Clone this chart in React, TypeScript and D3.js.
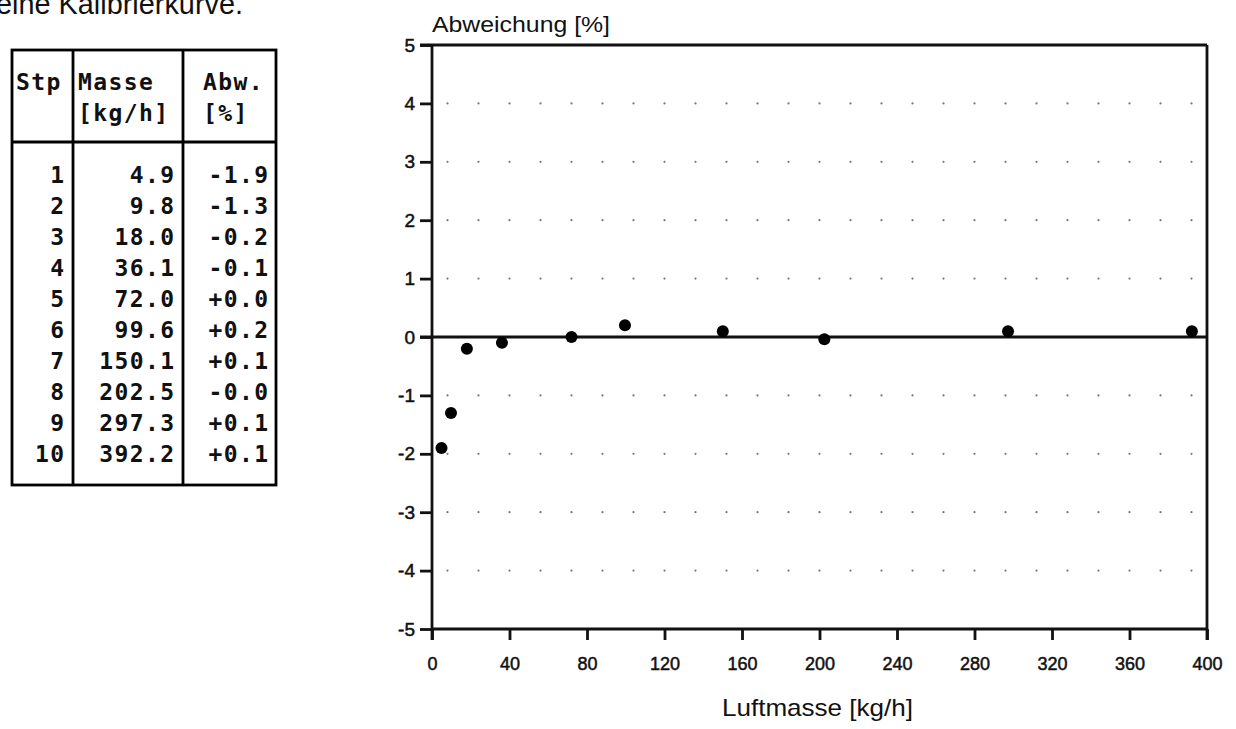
import React, { useEffect, useRef } from "react";
import * as d3 from "d3";

// calibration steps shown in the table and plotted on the chart
const steps = [1, 2, 3, 4, 5, 6, 7, 8, 9, 10];
const masses = [4.9, 9.8, 18.0, 36.1, 72.0, 99.6, 150.1, 202.5, 297.3, 392.2];
const deviations = [-1.9, -1.3, -0.2, -0.1, 0.0, 0.2, 0.1, -0.04, 0.1, 0.1];

const xTicks = [0, 40, 80, 120, 160, 200, 240, 280, 320, 360, 400];
const yTicks = [-5, -4, -3, -2, -1, 0, 1, 2, 3, 4, 5];
const gridX = d3.range(8, 400, 16);
const gridY = [-4, -3, -2, -1, 1, 2, 3, 4];

const tableHeader = [["Stp", ""], ["Masse", "[kg/h]"], ["Abw.", "[%]"]];

const W = 1236;
const H = 729;
const plot = { left: 432, top: 45, right: 1207, bottom: 629 };
const sans = "Liberation Sans, Arial, sans-serif";

const fmtDev = (v: number) => (v < 0 ? "-" : "+") + Math.abs(v).toFixed(1);

function App() {
  const svgRef = useRef<SVGSVGElement>(null);

  useEffect(() => {
    const svg = d3.select(svgRef.current);
    svg.selectAll("*").remove();

    const x = d3.scaleLinear().domain([0, 400]).range([plot.left, plot.right]);
    const y = d3.scaleLinear().domain([-5, 5]).range([plot.bottom, plot.top]);

    // cut-off line of text above the figure
    svg
      .append("text")
      .attr("x", -4)
      .attr("y", 14)
      .attr("font-family", sans)
      .attr("font-size", 30)
      .attr("textLength", 247)
      .attr("lengthAdjust", "spacingAndGlyphs")
      .attr("fill", "#111")
      .text("eine Kalibrierkurve.");

    // ---- table ----
    const tbl = svg.append("g").attr("font-family", "DejaVu Sans Mono, monospace");
    const colX = [12, 73, 183, 276];
    const tTop = 50;
    const tHead = 142;
    const tBottom = 485;
    const rowY0 = 175;
    const rowStep = 31;
    const ls = 1.4;

    tbl
      .append("rect")
      .attr("x", colX[0])
      .attr("y", tTop)
      .attr("width", colX[3] - colX[0])
      .attr("height", tBottom - tTop)
      .attr("fill", "none")
      .attr("stroke", "#000")
      .attr("stroke-width", 2.8);
    [colX[1], colX[2]].forEach((cx) => {
      tbl
        .append("line")
        .attr("x1", cx)
        .attr("x2", cx)
        .attr("y1", tTop)
        .attr("y2", tBottom)
        .attr("stroke", "#000")
        .attr("stroke-width", 2.8);
    });
    tbl
      .append("line")
      .attr("x1", colX[0])
      .attr("x2", colX[3])
      .attr("y1", tHead)
      .attr("y2", tHead)
      .attr("stroke", "#000")
      .attr("stroke-width", 2.8);

    const headX = [16, 78, 203];
    tableHeader.forEach((lines, i) => {
      lines.forEach((t, j) => {
        tbl
          .append("text")
          .attr("x", headX[i])
          .attr("y", 82 + j * 31)
          .attr("dy", "0.36em")
          .attr("font-size", 23)
          .attr("font-weight", "bold")
          .attr("letter-spacing", ls)
          .attr("fill", "#111")
          .text(t);
      });
    });

    const cellRight = [64, 174, 268];
    steps.forEach((s, i) => {
      const cells = [String(s), masses[i].toFixed(1), fmtDev(deviations[i])];
      cells.forEach((t, c) => {
        tbl
          .append("text")
          .attr("x", cellRight[c] + ls)
          .attr("y", rowY0 + i * rowStep)
          .attr("dy", "0.36em")
          .attr("text-anchor", "end")
          .attr("font-size", 23)
          .attr("font-weight", "bold")
          .attr("letter-spacing", ls)
          .attr("fill", "#111")
          .text(t);
      });
    });

    // ---- chart ----
    const chart = svg.append("g").attr("font-family", sans);

    // dotted grid
    gridY.forEach((gy) => {
      chart
        .selectAll(null)
        .data(gridX)
        .enter()
        .append("circle")
        .attr("cx", (d) => x(d))
        .attr("cy", y(gy))
        .attr("r", 1.1)
        .attr("fill", "#777");
    });

    // y axis
    const yAxis = d3
      .axisLeft(y)
      .tickValues(yTicks)
      .tickSize(12)
      .tickPadding(5)
      .tickFormat((d) => String(d));
    const gy = chart.append("g").attr("transform", `translate(${plot.left},0)`).call(yAxis);
    gy.select(".domain").remove();
    gy.selectAll(".tick line").attr("stroke", "#111").attr("stroke-width", 2.8);
    gy.selectAll(".tick text")
      .attr("font-size", 19)
      .attr("font-family", sans)
      .attr("fill", "#111")
      .attr("stroke", "#111")
      .attr("stroke-width", 0.5);

    // x axis
    const xAxis = d3
      .axisBottom(x)
      .tickValues(xTicks)
      .tickSize(11)
      .tickPadding(17)
      .tickFormat((d) => String(d));
    const gx = chart.append("g").attr("transform", `translate(0,${plot.bottom})`).call(xAxis);
    gx.select(".domain").remove();
    gx.selectAll(".tick line").attr("stroke", "#111").attr("stroke-width", 2.8);
    gx.selectAll(".tick text")
      .attr("font-size", 18)
      .attr("font-family", sans)
      .attr("fill", "#111")
      .attr("stroke", "#111")
      .attr("stroke-width", 0.5);

    // frame: left, bottom, top, right
    const frame = [
      [plot.left, plot.top, plot.left, plot.bottom + 11],
      [plot.left, plot.bottom, plot.right, plot.bottom],
      [plot.left - 12, plot.top, plot.right, plot.top],
      [plot.right, plot.top, plot.right, plot.bottom + 11],
    ];
    frame.forEach(([x1, y1, x2, y2]) => {
      chart
        .append("line")
        .attr("x1", x1)
        .attr("y1", y1)
        .attr("x2", x2)
        .attr("y2", y2)
        .attr("stroke", "#111")
        .attr("stroke-width", 2.8);
    });

    // zero line
    chart
      .append("line")
      .attr("x1", plot.left - 12)
      .attr("x2", plot.right)
      .attr("y1", y(0))
      .attr("y2", y(0))
      .attr("stroke", "#111")
      .attr("stroke-width", 2.8);

    // points
    chart
      .selectAll(".pt")
      .data(masses)
      .enter()
      .append("circle")
      .attr("class", "pt")
      .attr("cx", (d) => x(d))
      .attr("cy", (d, i) => y(deviations[i]))
      .attr("r", 6)
      .attr("fill", "#000");

    // axis titles
    chart
      .append("text")
      .attr("x", plot.left)
      .attr("y", 32)
      .attr("font-size", 22)
      .attr("textLength", 178)
      .attr("lengthAdjust", "spacingAndGlyphs")
      .attr("fill", "#111")
      .text("Abweichung [%]");

    chart
      .append("text")
      .attr("x", 722)
      .attr("y", 716)
      .attr("font-size", 24)
      .attr("textLength", 191)
      .attr("lengthAdjust", "spacingAndGlyphs")
      .attr("fill", "#111")
      .text("Luftmasse [kg/h]");
  }, []);

  return (
    <svg
      ref={svgRef}
      width={W}
      height={H}
      style={{ position: "absolute", left: 0, top: 0, background: "#fff" }}
    ></svg>
  );
}

export default App;
